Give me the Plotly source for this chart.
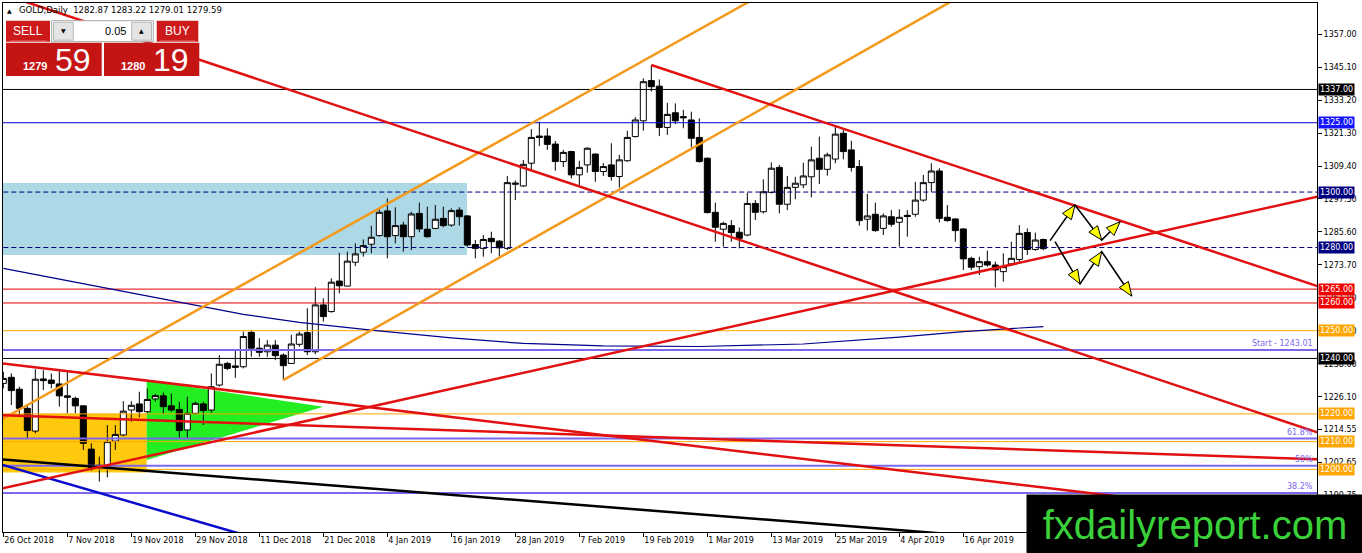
import math
import plotly.graph_objects as go

# ---------------- data ----------------
date_tick_idx = [0, 8, 16, 24, 32, 40, 48, 56, 64, 72, 80, 88, 96, 104, 112, 120]
date_labels = ["26 Oct 2018", "7 Nov 2018", "19 Nov 2018", "29 Nov 2018", "11 Dec 2018",
               "21 Dec 2018", "4 Jan 2019", "16 Jan 2019", "28 Jan 2019", "7 Feb 2019",
               "19 Feb 2019", "1 Mar 2019", "13 Mar 2019", "25 Mar 2019", "4 Apr 2019",
               "16 Apr 2019"]

opens = [1231.0, 1233.2, 1228.9, 1222.0, 1213.8, 1232.6, 1232.2, 1230.8, 1226.5, 1225.6,
         1222.9, 1207.3, 1201.5, 1200.4, 1210.2, 1212.4, 1221.4, 1223.6, 1220.8, 1225.4,
         1226.5, 1222.9, 1221.6, 1214.2, 1220.2, 1223.6, 1221.4, 1230.4, 1238.2, 1237.3,
         1237.0, 1249.4, 1243.7, 1242.4, 1244.8, 1241.2, 1238.2, 1245.1, 1249.3, 1242.4,
         1259.3, 1256.9, 1267.9, 1266.1, 1274.7, 1278.3, 1281.2, 1284.3, 1293.2, 1284.3,
         1288.1, 1283.9, 1292.3, 1286.6, 1286.9, 1290.5, 1288.1, 1293.5, 1291.4, 1281.1,
         1279.7, 1283.3, 1282.3, 1279.7, 1302.8, 1302.2, 1310.4, 1320.2, 1320.2, 1317.3,
         1311.0, 1314.6, 1306.2, 1309.8, 1313.7, 1307.4, 1309.8, 1305.6, 1311.3, 1320.0,
         1325.7, 1340.2, 1338.2, 1323.3, 1328.6, 1327.2, 1326.0, 1319.7, 1312.2, 1292.7,
         1286.6, 1287.9, 1285.5, 1284.5, 1295.9, 1292.9, 1299.9, 1308.9, 1295.6, 1301.7,
         1302.6, 1305.5, 1312.2, 1308.2, 1311.9, 1321.2, 1315.2, 1309.2, 1290.2, 1292.0,
         1286.9, 1291.1, 1289.1, 1291.6, 1292.0, 1297.1, 1303.4, 1307.6, 1290.9, 1290.3,
         1286.7, 1276.1, 1273.1, 1274.9, 1273.7, 1271.3, 1274.1, 1275.7, 1285.4, 1279.3,
         1282.87]
highs = [1235.2, 1234.6, 1229.8, 1223.2, 1236.1, 1235.8, 1234.6, 1235.5, 1235.2, 1226.2,
         1223.2, 1209.4, 1204.6, 1216.0, 1216.0, 1224.6, 1224.6, 1228.0, 1229.2, 1227.2,
         1227.7, 1227.4, 1224.4, 1226.2, 1224.4, 1224.4, 1234.6, 1241.2, 1238.8, 1243.0,
         1249.7, 1250.3, 1247.3, 1246.6, 1246.6, 1241.8, 1248.5, 1249.7, 1258.1, 1265.7,
         1261.7, 1268.9, 1278.1, 1278.5, 1281.5, 1282.9, 1287.8, 1294.1, 1297.7, 1294.5,
         1289.3, 1292.9, 1296.2, 1294.7, 1295.3, 1294.7, 1294.1, 1294.5, 1291.7, 1282.7,
         1284.5, 1285.7, 1282.7, 1305.8, 1304.2, 1311.6, 1322.7, 1325.4, 1323.0, 1318.4,
         1315.2, 1314.9, 1311.3, 1316.2, 1314.0, 1310.4, 1317.6, 1313.4, 1322.1, 1327.0,
         1341.0, 1345.8, 1340.6, 1332.2, 1332.0, 1329.6, 1329.0, 1326.6, 1312.5, 1296.2,
         1289.3, 1289.9, 1287.2, 1299.8, 1297.1, 1304.6, 1310.7, 1309.8, 1305.8, 1305.5,
         1310.6, 1316.4, 1320.0, 1314.2, 1323.6, 1322.4, 1318.5, 1311.6, 1299.3, 1296.2,
         1292.3, 1293.5, 1293.8, 1293.5, 1303.7, 1306.2, 1310.4, 1308.6, 1295.3, 1290.5,
         1286.9, 1276.7, 1276.7, 1278.9, 1274.9, 1277.9, 1282.1, 1288.1, 1286.9, 1285.4,
         1283.22]
lows = [1229.2, 1223.2, 1219.2, 1211.2, 1213.0, 1228.6, 1229.2, 1222.6, 1220.2, 1220.2,
        1207.0, 1199.5, 1195.6, 1197.1, 1207.0, 1212.0, 1217.2, 1218.8, 1220.2, 1224.4,
        1220.0, 1220.8, 1211.2, 1211.2, 1219.8, 1216.0, 1220.4, 1229.8, 1235.8, 1233.0,
        1236.4, 1240.6, 1240.6, 1240.6, 1239.4, 1232.2, 1238.0, 1244.2, 1241.2, 1241.5,
        1253.3, 1256.5, 1263.5, 1265.9, 1273.3, 1276.7, 1277.9, 1283.9, 1276.1, 1281.5,
        1278.5, 1279.1, 1285.5, 1283.6, 1286.6, 1287.3, 1287.5, 1287.9, 1280.3, 1276.1,
        1276.7, 1277.9, 1276.7, 1279.1, 1297.1, 1301.9, 1308.0, 1316.6, 1315.2, 1307.7,
        1309.1, 1304.9, 1302.5, 1307.0, 1303.7, 1305.8, 1304.1, 1301.6, 1310.9, 1319.7,
        1322.1, 1336.2, 1320.2, 1320.6, 1324.5, 1323.0, 1316.1, 1310.6, 1292.3, 1282.1,
        1280.3, 1282.1, 1279.7, 1284.1, 1289.9, 1292.3, 1299.5, 1292.3, 1293.5, 1297.4,
        1301.4, 1298.1, 1302.9, 1305.9, 1310.4, 1311.8, 1307.4, 1287.9, 1286.1, 1285.7,
        1284.5, 1287.5, 1280.3, 1283.9, 1291.1, 1296.5, 1300.1, 1289.0, 1289.3, 1282.1,
        1271.9, 1271.9, 1270.1, 1273.1, 1265.6, 1267.7, 1273.7, 1274.3, 1277.3, 1278.8,
        1279.01]
closes = [1232.8, 1228.4, 1222.0, 1214.0, 1232.5, 1232.0, 1231.0, 1226.5, 1226.0, 1222.9,
          1209.4, 1200.4, 1200.8, 1210.0, 1212.6, 1221.0, 1223.1, 1220.8, 1225.2, 1226.6,
          1222.6, 1221.4, 1214.0, 1220.2, 1223.8, 1221.2, 1229.8, 1237.9, 1236.4, 1236.8,
          1247.9, 1243.7, 1242.2, 1244.8, 1241.0, 1237.4, 1245.2, 1248.8, 1242.4, 1259.3,
          1255.1, 1267.5, 1266.2, 1275.1, 1277.7, 1280.7, 1283.7, 1292.7, 1283.9, 1287.9,
          1283.9, 1292.1, 1286.7, 1283.9, 1290.2, 1287.9, 1293.3, 1291.1, 1280.9, 1279.7,
          1282.9, 1282.1, 1279.9, 1303.4, 1303.2, 1310.0, 1319.7, 1319.7, 1317.2, 1311.0,
          1314.3, 1306.2, 1308.9, 1315.8, 1307.4, 1309.2, 1305.6, 1311.6, 1319.7, 1326.0,
          1339.8, 1338.0, 1323.3, 1328.0, 1325.7, 1326.8, 1319.4, 1311.0, 1292.6, 1287.3,
          1288.7, 1285.4, 1283.3, 1295.9, 1292.7, 1300.1, 1308.6, 1295.6, 1301.7, 1303.2,
          1305.8, 1311.6, 1308.2, 1313.4, 1320.9, 1314.6, 1308.9, 1289.7, 1291.4, 1286.1,
          1291.4, 1288.4, 1290.9, 1291.2, 1297.1, 1303.4, 1307.6, 1290.5, 1289.7, 1286.1,
          1275.9, 1272.9, 1274.9, 1273.7, 1271.9, 1273.1, 1276.1, 1285.1, 1279.3, 1282.7,
          1279.59]

# moving average, read at sampled bars
ma_idx = [0, 12, 25, 30, 37, 46, 56, 65, 75, 87, 100, 112, 120, 125, 130]
ma_vals = [1272.5, 1265.8, 1258.5, 1255.9, 1253.0, 1250.2, 1247.4, 1245.4, 1244.5, 1244.3,
           1245.2, 1247.7, 1249.7, 1250.6, 1251.5]

price_ticks = [1357.00, 1345.10, 1333.20, 1321.30, 1309.40, 1297.50, 1285.60, 1273.70,
               1261.80, 1249.90, 1238.00, 1226.10, 1214.55, 1202.65, 1190.75]

# horizontal levels: price, line colour, dash, label colour
level_prices = [1337.0, 1325.0, 1300.0, 1280.0, 1265.0, 1260.0, 1250.0, 1240.0, 1220.0, 1210.0, 1200.0]
level_line_colors = ["#000000", "#0000D0", "#000080", "#000080", "#E00000", "#E00000",
                     "#FFA500", "#000000", "#FFA500", "#FFA500", "#FFA500"]
level_dash = ["solid", "solid", "5px,3px", "5px,3px", "solid", "solid",
              "solid", "solid", "solid", "solid", "solid"]
level_label_colors = ["#000000", "#1414FF", "#000080", "#000080", "#F00000", "#F00000",
                      "#FFA500", "#000000", "#FFA500", "#FFA500", "#FFA500"]

fib_start = 1243.01
fib_prices = [1211.1, 1201.3, 1191.5]
fib_labels = ["61.8%", "50%", "38.2%"]

# drawn trendlines (bar index, price) pairs
orange_lines = [[(-5, 1210.3), (100, 1379.6)],
                [(35.0, 1232.2), (125, 1379.4)]]
red_lines = [[(81.0, 1345.8), (170, 1260.6)],
             [(-10, 1380.9), (170, 1207.8)],
             [(-5, 1190.0), (170, 1302.0)],
             [(-5, 1239.9), (170, 1179.7)],
             [(-5, 1220.0), (170, 1203.1)]]
black_line = [(-5, 1204.7), (170, 1164.9)]
blue_line = [(-5, 1205.7), (40, 1168.1)]

blue_box = [(-5, 1277.3), (57.96, 1303.3)]
gold_box = [(-5, 1198.9), (17.92, 1220.0)]
green_tri = [(17.92, 1232.0), (40.0, 1222.6), (17.92, 1203.4)]

arrow_paths = [[(130.84, 1282.5), (133.96, 1295.3), (137.3, 1282.7), (139.6, 1289.3)],
               [(131.46, 1282.1), (134.59, 1266.9), (137.3, 1278.5), (141.05, 1262.5)]]

header_text = "GOLD,Daily\u00a0\u00a01282.87 1283.22 1279.01 1279.59"

# ---------------- layout geometry ----------------
W, H = 1362, 553
ML, MR, MT, MB = 3, 45, 3, 21
PW, PH = W - ML - MR, H - MT - MB
X0, X1 = -0.04, 164.21
Y0, Y1 = 1177.41, 1368.18
PXB = PW / (X1 - X0)
PXP = PH / (Y1 - Y0)


def px2x(px):
    return (px - ML) / PW


def px2y(py):
    return (H - MB - py) / PH


FONT = "DejaVu Sans"
fig = go.Figure()

fig.add_trace(go.Candlestick(
    x=list(range(len(opens))), open=opens, high=highs, low=lows, close=closes,
    increasing=dict(line=dict(color="black", width=1), fillcolor="white"),
    decreasing=dict(line=dict(color="black", width=1), fillcolor="black"),
    whiskerwidth=0, hoverinfo="skip", showlegend=False))

# horizontal levels
for p, c, d in zip(level_prices, level_line_colors, level_dash):
    fig.add_trace(go.Scatter(x=[-5, 170], y=[p, p], mode="lines",
                             line=dict(color=c, width=1, dash=d),
                             hoverinfo="skip", showlegend=False))
for p in [fib_start] + fib_prices:
    fig.add_trace(go.Scatter(x=[-5, 170], y=[p, p], mode="lines",
                             line=dict(color="#7B68EE", width=2),
                             hoverinfo="skip", showlegend=False))

# moving average
fig.add_trace(go.Scatter(x=ma_idx, y=ma_vals, mode="lines",
                         line=dict(color="#00008B", width=1.2),
                         hoverinfo="skip", showlegend=False))


def seg(pts, color, width):
    fig.add_trace(go.Scatter(x=[p[0] for p in pts], y=[p[1] for p in pts], mode="lines",
                             line=dict(color=color, width=width),
                             hoverinfo="skip", showlegend=False))


for ln in orange_lines:
    seg(ln, "#F39A1C", 2.5)
seg(black_line, "#000000", 2.5)
seg(blue_line, "#0A0ACD", 2.5)
for ln in red_lines:
    seg(ln, "#E21010", 2.5)

# arrows
HL, HW = 14, 5.5
for path in arrow_paths:
    seg(path, "#000000", 1.6)
    for (xa, ya), (xb, yb) in zip(path[:-1], path[1:]):
        dx, dy = (xb - xa) * PXB, (yb - ya) * PXP
        L = math.hypot(dx, dy)
        ux, uy = dx / L, dy / L
        bcx, bcy = xb - HL * ux / PXB, yb - HL * uy / PXP
        c1 = (bcx - HW * uy / PXB, bcy + HW * ux / PXP)
        c2 = (bcx + HW * uy / PXB, bcy - HW * ux / PXP)
        fig.add_trace(go.Scatter(x=[xb, c1[0], c2[0], xb], y=[yb, c1[1], c2[1], yb],
                                 mode="lines", fill="toself", fillcolor="#FFFF00",
                                 line=dict(color="black", width=1),
                                 hoverinfo="skip", showlegend=False))

shapes = []
shapes.append(dict(type="rect", xref="x", yref="y", x0=blue_box[0][0], x1=blue_box[1][0],
                   y0=blue_box[0][1], y1=blue_box[1][1], fillcolor="#ADD8E6",
                   line=dict(width=0), layer="below"))
shapes.append(dict(type="rect", xref="x", yref="y", x0=gold_box[0][0], x1=gold_box[1][0],
                   y0=gold_box[0][1], y1=gold_box[1][1], fillcolor="#FFC90E",
                   line=dict(width=0), layer="below"))
tri_path = "M {},{} L {},{} L {},{} Z".format(*[v for pt in green_tri for v in pt])
shapes.append(dict(type="path", xref="x", yref="y", path=tri_path, fillcolor="#22EE22",
                   line=dict(width=0), layer="below"))


def prect(x0, y0, x1, y1, fill, line_color=None, lw=0):
    shapes.append(dict(type="rect", xref="paper", yref="paper",
                       x0=px2x(x0), x1=px2x(x1), y0=px2y(y1), y1=px2y(y0),
                       fillcolor=fill, line=dict(color=line_color or fill, width=lw),
                       layer="above"))


# trade panel
prect(6, 20.7, 50, 41.7, "#CC1A1A")
prect(6, 42.7, 101.7, 76, "#C41414")
prect(156.7, 20.7, 198.3, 41.7, "#CC1A1A")
prect(104, 42.7, 199.3, 76, "#C41414")
prect(51.7, 20.7, 153.3, 41.7, "#FFFFFF", "#A8A8A8", 1)
prect(53.5, 22.3, 73.3, 40.2, "#E4E4E4", "#B8B8B8", 1)
prect(131.7, 22.3, 151.5, 40.2, "#E4E4E4", "#B8B8B8", 1)
shapes.append(dict(type="line", xref="paper", yref="paper", x0=px2x(10), x1=px2x(47),
                   y0=px2y(41), y1=px2y(41), line=dict(color="#E87070", width=1), layer="above"))
shapes.append(dict(type="line", xref="paper", yref="paper", x0=px2x(160), x1=px2x(195),
                   y0=px2y(41), y1=px2y(41), line=dict(color="#E87070", width=1), layer="above"))

ann = []


def ptext(txt, px, py, size, color, xanchor="left", family=FONT, **kw):
    ann.append(dict(text=txt, xref="paper", yref="paper", x=px2x(px), y=px2y(py),
                    xanchor=xanchor, yanchor="middle", showarrow=False,
                    font=dict(family=family, size=size, color=color), **kw))


ptext("\u25B2", 9.5, 10, 6, "black", xanchor="center")
ptext(header_text, 17, 10, 8.5, "black")
ptext("SELL", 28, 31, 12, "white", xanchor="center", family="Liberation Sans")
ptext("BUY", 177.5, 31, 12, "white", xanchor="center", family="Liberation Sans")
ptext("0.05", 128, 31, 11, "black", xanchor="right", family="Liberation Sans")
ptext("\u25BC", 63.4, 31, 6, "black", xanchor="center")
ptext("\u25B2", 141.6, 31, 6, "black", xanchor="center")
ptext("<b>1279</b>", 49, 66, 11, "white", xanchor="right", family="Liberation Sans")
ptext("59", 53, 60, 32, "white", family="Liberation Sans")
ptext("<b>1280</b>", 147, 66, 11, "white", xanchor="right", family="Liberation Sans")
ptext("19", 151, 60, 32, "white", family="Liberation Sans")

# price labels on the axis
for p, c in zip(level_prices, level_label_colors):
    ann.append(dict(text="{:.2f}".format(p), xref="paper", yref="y", x=1, y=p,
                    xanchor="left", yanchor="middle", xshift=1, showarrow=False,
                    bgcolor=c, borderpad=1, font=dict(family=FONT, size=8, color="white")))

ann.append(dict(text="Start - {:.2f}".format(fib_start), xref="paper", yref="y", x=1,
                y=fib_start, xanchor="right", yanchor="bottom", xshift=-2, showarrow=False,
                font=dict(family=FONT, size=8, color="#7B68EE")))
for p, t in zip(fib_prices, fib_labels):
    ann.append(dict(text=t, xref="paper", yref="y", x=1, y=p, xanchor="right",
                    yanchor="bottom", xshift=-2, showarrow=False,
                    font=dict(family=FONT, size=8, color="#7B68EE")))

# banner
ann.append(dict(text="fxdailyreport.com", xref="paper", yref="paper", x=px2x(1026),
                y=px2y(494), xanchor="left", yanchor="top", width=336, height=59,
                borderpad=0, bgcolor="#000000", showarrow=False, align="center",
                valign="middle",
                font=dict(family="Liberation Sans", size=40, color="#3AD13A")))

fig.update_layout(
    width=W, height=H, margin=dict(l=ML, r=MR, t=MT, b=MB),
    paper_bgcolor="white", plot_bgcolor="white", showlegend=False,
    boxgap=0.25, boxgroupgap=0,
    shapes=shapes, annotations=ann,
    xaxis=dict(range=[X0, X1], showgrid=False, zeroline=False, showline=True, mirror=True,
               linecolor="black", linewidth=1, ticks="outside", ticklen=4, tickcolor="black",
               tickvals=date_tick_idx, ticktext=date_labels, ticklabelposition="outside right",
               tickfont=dict(family=FONT, size=8, color="black"),
               rangeslider=dict(visible=False), fixedrange=True),
    yaxis=dict(range=[Y0, Y1], side="right", showgrid=False, zeroline=False, showline=True,
               mirror=True, linecolor="black", linewidth=1, ticks="outside", ticklen=4,
               tickcolor="black", tickvals=price_ticks,
               ticktext=["{:.2f}".format(v) for v in price_ticks],
               tickfont=dict(family=FONT, size=8, color="black"), fixedrange=True),
)

fig.write_html("out.html", config={"displayModeBar": False},
               post_script="document.body.style.margin='0px';document.body.style.overflow='hidden';")
